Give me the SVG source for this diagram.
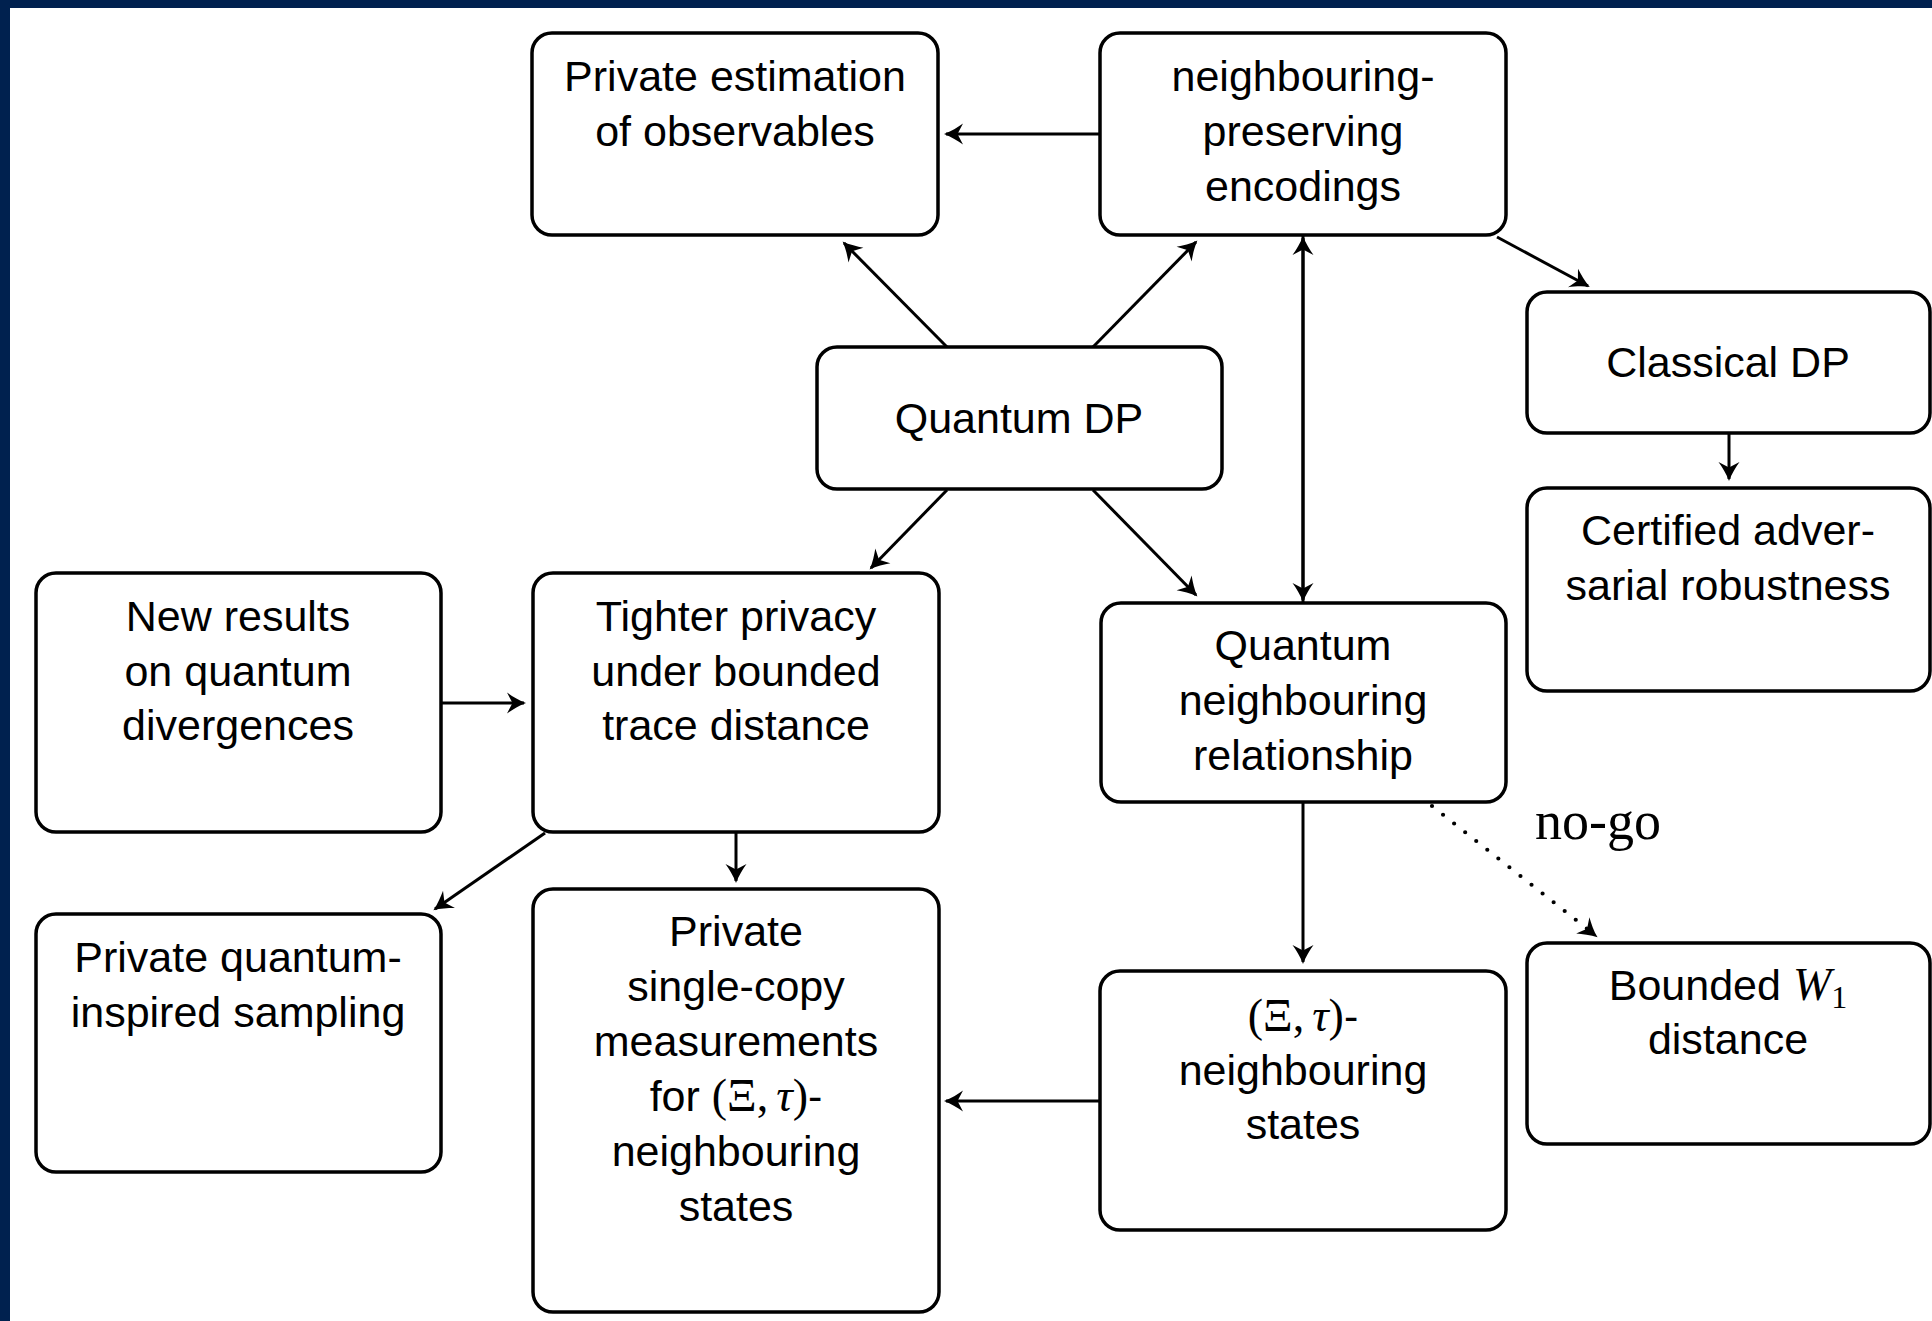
<svg xmlns="http://www.w3.org/2000/svg" width="1932" height="1321" viewBox="0 0 1932 1321">
  <style>
    .frame { fill: #00214f; }
    .box { fill: #ffffff; stroke: #000000; stroke-width: 3.5; }
    .lbl { font-family: "Liberation Sans", Arial, sans-serif; font-size: 43px; fill: #000000; text-anchor: middle; }
    .m { font-family: "Liberation Serif", "Times New Roman", serif; }
    .mi { font-family: "Liberation Serif", "Times New Roman", serif; font-style: italic; }
    .edge { fill: none; stroke: #000000; stroke-width: 3; marker-end: url(#head); }
    .plain { fill: none; stroke: #000000; stroke-width: 3; }
    .dots { fill: none; stroke: #000000; stroke-width: 4.2; stroke-linecap: round; stroke-dasharray: 0 14.1; }
    .note { font-family: "Liberation Serif", "Times New Roman", serif; font-size: 54px; fill: #000000; }
  </style>
  <defs>
    <marker id="head" markerUnits="userSpaceOnUse" viewBox="-22 -13 28 26" markerWidth="28" markerHeight="26" refX="0" refY="0" orient="auto" overflow="visible">
      <path d="M2,0 C-5,-2.5 -12,-7 -17,-10.5 L-11.5,0 L-17,10.5 C-12,7 -5,2.5 2,0 Z" fill="#000000"/>
    </marker>
  </defs>

  <!-- page background with navy frame on the top and left edges -->
  <rect x="0" y="0" width="1932" height="1321" fill="#ffffff"/>
  <rect class="frame" x="0" y="0" width="1932" height="8"/>
  <rect class="frame" x="0" y="0" width="10" height="1321"/>

  <!-- connectors -->
  <g id="connectors">
    <path class="edge" d="M1100,134 L946,134"/>
    <path class="edge" d="M947,347 L844,243"/>
    <path class="edge" d="M1093,347 L1196,242"/>
    <path class="plain" d="M1303,235 L1303,603"/>
    <path class="edge" d="M1303,420 L1303,238"/>
    <path class="edge" d="M1303,420 L1303,600"/>
    <path class="edge" d="M1497,237 L1588,286"/>
    <path class="edge" d="M1729,434 L1729,479"/>
    <path class="edge" d="M947,490 L871,568"/>
    <path class="edge" d="M1093,490 L1196,595"/>
    <path class="edge" d="M441,703 L524,703"/>
    <path class="edge" d="M545,833 L435,909"/>
    <path class="edge" d="M736,832 L736,881"/>
    <path class="edge" d="M1303,802 L1303,962"/>
    <path class="edge" d="M1100,1101 L946,1101"/>
    <path class="dots" d="M1432,806 L1590,931"/>
    <path fill="none" stroke="none" d="M1580,923 L1596,936" marker-end="url(#head)"/>
    <text class="note" x="1535" y="839">no-go</text>
  </g>

  <!-- nodes -->
  <g id="private-estimation">
    <rect class="box" x="532" y="33" width="406" height="202" rx="20"/>
    <text class="lbl" x="735" y="91">Private estimation</text>
    <text class="lbl" x="735" y="146">of observables</text>
  </g>

  <g id="neighbouring-preserving">
    <rect class="box" x="1100" y="33" width="406" height="202" rx="20"/>
    <text class="lbl" x="1303" y="91">neighbouring-</text>
    <text class="lbl" x="1303" y="146">preserving</text>
    <text class="lbl" x="1303" y="201">encodings</text>
  </g>

  <g id="classical-dp">
    <rect class="box" x="1527" y="292" width="403" height="141" rx="20"/>
    <text class="lbl" x="1728" y="377">Classical DP</text>
  </g>

  <g id="quantum-dp">
    <rect class="box" x="817" y="347" width="405" height="142" rx="20"/>
    <text class="lbl" x="1019" y="433">Quantum DP</text>
  </g>

  <g id="certified-robustness">
    <rect class="box" x="1527" y="488" width="403" height="203" rx="20"/>
    <text class="lbl" x="1728" y="545">Certified adver-</text>
    <text class="lbl" x="1728" y="600">sarial robustness</text>
  </g>

  <g id="new-results">
    <rect class="box" x="36" y="573" width="405" height="259" rx="20"/>
    <text class="lbl" x="238" y="631">New results</text>
    <text class="lbl" x="238" y="686">on quantum</text>
    <text class="lbl" x="238" y="740">divergences</text>
  </g>

  <g id="tighter-privacy">
    <rect class="box" x="533" y="573" width="406" height="259" rx="20"/>
    <text class="lbl" x="736" y="631">Tighter privacy</text>
    <text class="lbl" x="736" y="686">under bounded</text>
    <text class="lbl" x="736" y="740">trace distance</text>
  </g>

  <g id="quantum-neighbouring">
    <rect class="box" x="1101" y="603" width="405" height="199" rx="20"/>
    <text class="lbl" x="1303" y="660">Quantum</text>
    <text class="lbl" x="1303" y="715">neighbouring</text>
    <text class="lbl" x="1303" y="770">relationship</text>
  </g>

  <g id="quantum-inspired-sampling">
    <rect class="box" x="36" y="914" width="405" height="258" rx="20"/>
    <text class="lbl" x="238" y="972">Private quantum-</text>
    <text class="lbl" x="238" y="1027">inspired sampling</text>
  </g>

  <g id="single-copy-measurements">
    <rect class="box" x="533" y="889" width="406" height="423" rx="20"/>
    <text class="lbl" x="736" y="946">Private</text>
    <text class="lbl" x="736" y="1001">single-copy</text>
    <text class="lbl" x="736" y="1056">measurements</text>
    <text class="lbl" x="736" y="1111">for <tspan class="m" font-size="46">(Ξ,</tspan><tspan class="mi" font-size="46" dx="8">τ</tspan><tspan class="m" font-size="46">)</tspan>-</text>
    <text class="lbl" x="736" y="1166">neighbouring</text>
    <text class="lbl" x="736" y="1221">states</text>
  </g>

  <g id="xi-tau-states">
    <rect class="box" x="1100" y="971" width="406" height="259" rx="20"/>
    <text class="lbl" x="1303" y="1031"><tspan class="m" font-size="46">(Ξ,</tspan><tspan class="mi" font-size="46" dx="8">τ</tspan><tspan class="m" font-size="46">)</tspan>-</text>
    <text class="lbl" x="1303" y="1085">neighbouring</text>
    <text class="lbl" x="1303" y="1139">states</text>
  </g>

  <g id="bounded-w1">
    <rect class="box" x="1527" y="943" width="403" height="201" rx="20"/>
    <text class="lbl" x="1728" y="1000">Bounded <tspan class="mi" font-size="46">W</tspan><tspan class="m" font-size="32" dy="8">1</tspan></text>
    <text class="lbl" x="1728" y="1054">distance</text>
  </g>
</svg>
